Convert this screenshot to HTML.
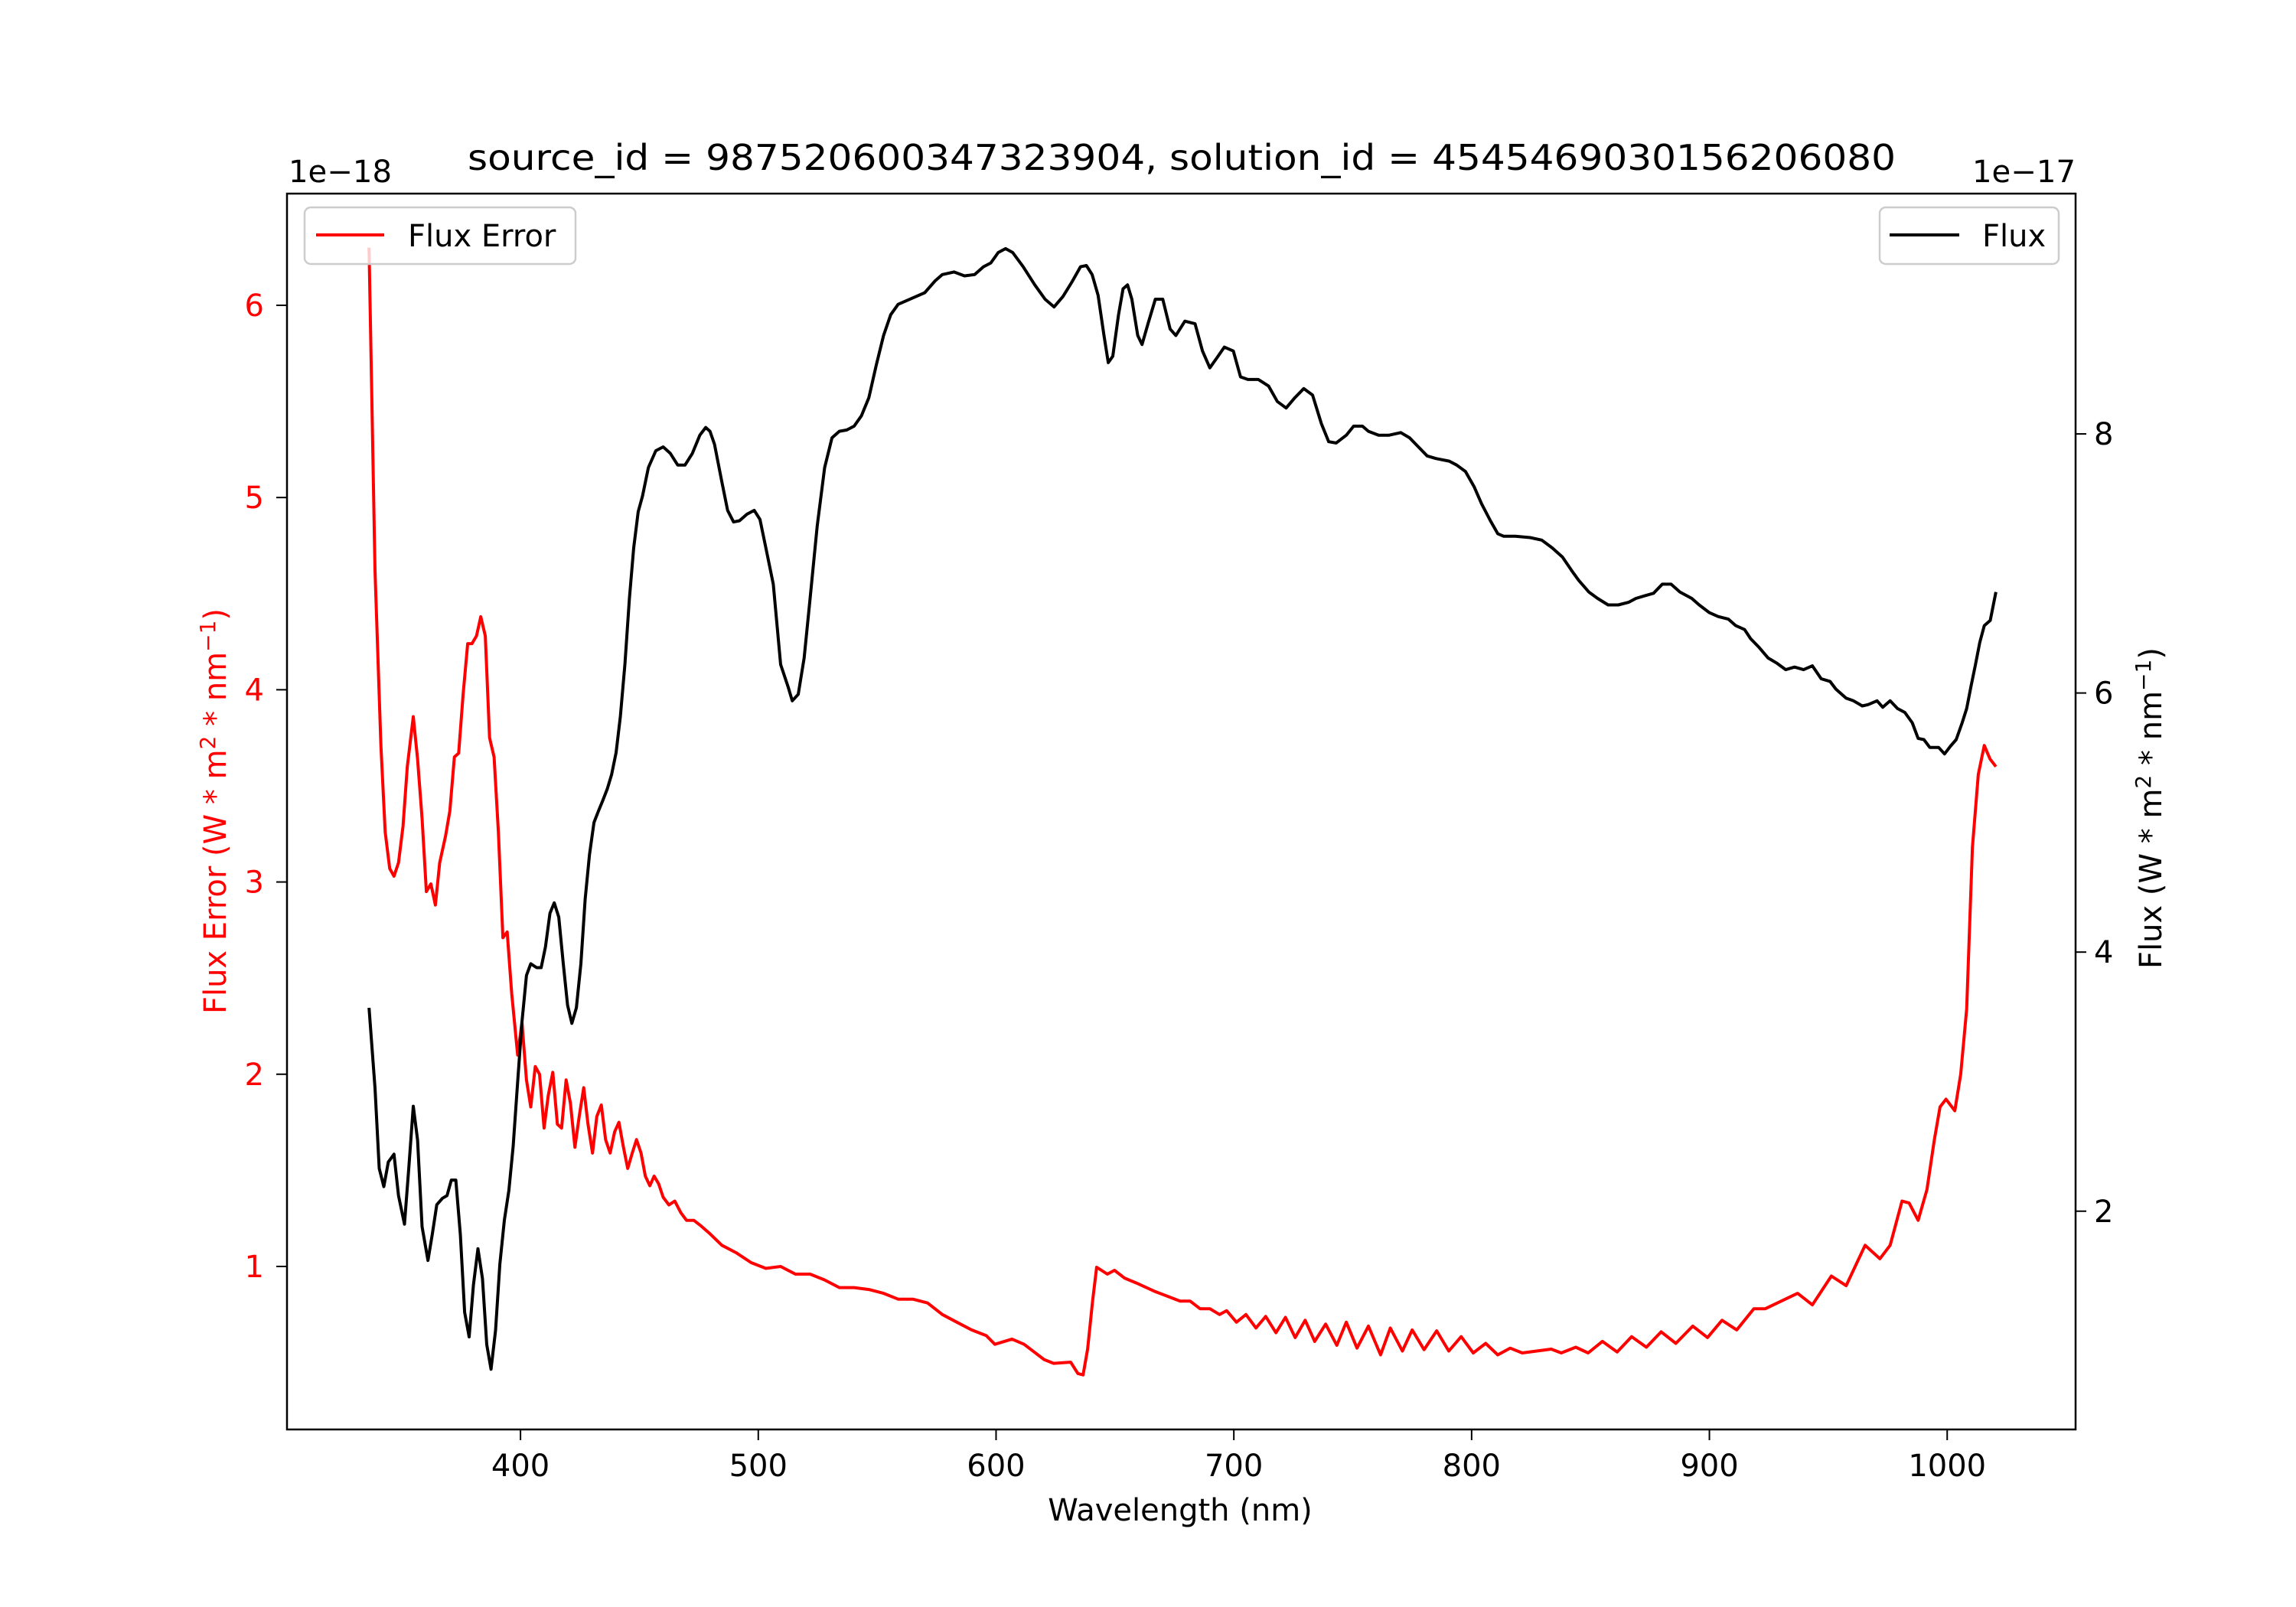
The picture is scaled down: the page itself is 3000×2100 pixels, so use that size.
<!DOCTYPE html>
<html><head><meta charset="utf-8"><style>
html,body{margin:0;padding:0;background:#fff;}
svg{display:block;font-family:"DejaVu Sans","Liberation Sans",sans-serif;}
</style></head>
<body>
<svg id="chart" width="3000" height="2100" viewBox="0 0 3000 2100" xmlns="http://www.w3.org/2000/svg">
<rect x="0" y="0" width="3000" height="2100" fill="#fff"/>
<text x="1544" y="222" font-size="46" text-anchor="middle" textLength="1866" lengthAdjust="spacingAndGlyphs">source_id = 987520600347323904, solution_id = 4545469030156206080</text>
<text x="377" y="238" font-size="40" textLength="135" lengthAdjust="spacingAndGlyphs">1e−18</text>
<text x="2712" y="238" font-size="40" text-anchor="end" textLength="135" lengthAdjust="spacingAndGlyphs">1e−17</text>
<g id="ticks"></g>
<g id="series"></g>
<rect x="375" y="253" width="2337" height="1615" fill="none" stroke="#000" stroke-width="2.5"/>
<text x="1542" y="1987" font-size="40" text-anchor="middle">Wavelength (nm)</text>
<text transform="translate(295,1060) rotate(-90)" font-size="40" fill="#ff0000" text-anchor="middle">Flux Error (W * m<tspan font-size="28" dy="-14">2</tspan><tspan dy="14"> * nm</tspan><tspan font-size="28" dy="-14">−1</tspan><tspan dy="14">)</tspan></text>
<text transform="translate(2824,1056) rotate(-90)" font-size="40" fill="#000" text-anchor="middle">Flux (W * m<tspan font-size="28" dy="-14">2</tspan><tspan dy="14"> * nm</tspan><tspan font-size="28" dy="-14">−1</tspan><tspan dy="14">)</tspan></text>
<g>
<rect x="398" y="271" width="354" height="74" rx="8" fill="#fff" fill-opacity="0.8" stroke="#ccc" stroke-width="2.5"/>
<line x1="413" y1="307" x2="502" y2="307" stroke="#ff0000" stroke-width="4"/>
<text x="533" y="322" font-size="40">Flux Error</text>
</g>
<g>
<rect x="2456" y="271" width="234" height="74" rx="8" fill="#fff" fill-opacity="0.8" stroke="#ccc" stroke-width="2.5"/>
<line x1="2469" y1="307" x2="2560" y2="307" stroke="#000" stroke-width="4"/>
<text x="2590" y="322" font-size="40">Flux</text>
</g>
</svg>
<script>
const xTicks = [400,500,600,700,800,900,1000];
const leftTicks = [1,2,3,4,5,6];
const rightTicks = [2,4,6,8];
const errWave = [336.3,338.8,341.3,343.1,345,346.8,348.7,350.6,352.4,354.9,356.7,358.6,360.4,362.3,364.2,366,368.5,370.3,372.2,374,375.9,377.8,379.6,381.5,383.3,385.2,387,388.9,390.7,392.6,394.4,396.3,398.8,400.6,402.5,404.3,406.2,408,409.9,411.7,413.6,415.5,417.3,419.2,421,422.9,424.7,426.6,428.4,430.3,432.1,434,435.8,437.7,439.6,441.4,443.3,445.1,447,448.8,450.7,452.5,454.4,456.2,458.1,460,462.4,464.9,467.4,469.8,472.9,476,479.7,484.7,490.9,497,503.2,509.4,515.6,521.8,527.9,534.1,540.3,546.5,552.7,558.8,565,571.2,577.4,583.5,589.7,595.9,599.5,606.7,611.8,620.2,624.2,631.4,634.4,636.6,638.5,640.6,642.3,646.8,649.8,654,659,667,677.4,681.6,685.8,689.9,694,697,701.1,705.1,709.3,713.4,717.7,721.7,725.8,730,734,738.6,743.3,747.3,751.8,756.6,761.7,765.8,770.9,775,780,785.3,790.4,795.6,800.7,805.9,811,816.2,821.3,833.5,837.7,843.8,849,855,861.2,867.3,873.5,879.7,885.9,893,899.2,905.3,911.5,918.7,923.5,937.1,943.3,951.3,957.5,965.5,971.7,976,981,984,987.8,991.5,994.6,997,999.5,1003.2,1005.7,1008.2,1010.6,1013.1,1015.6,1018,1020.5];
const errValues = [6.30,4.62,3.71,3.26,3.07,3.03,3.10,3.29,3.60,3.86,3.64,3.33,2.95,2.99,2.88,3.10,3.24,3.37,3.65,3.67,3.98,4.24,4.24,4.28,4.38,4.28,3.75,3.65,3.26,2.71,2.74,2.42,2.10,2.27,1.97,1.83,2.04,2.0,1.72,1.89,2.01,1.74,1.72,1.97,1.85,1.62,1.78,1.93,1.74,1.59,1.78,1.84,1.66,1.59,1.70,1.75,1.62,1.51,1.59,1.66,1.59,1.47,1.42,1.47,1.43,1.36,1.32,1.34,1.28,1.24,1.24,1.21,1.17,1.11,1.07,1.02,0.99,1.0,0.96,0.96,0.93,0.89,0.89,0.88,0.86,0.83,0.83,0.81,0.75,0.71,0.67,0.64,0.595,0.622,0.595,0.516,0.496,0.502,0.443,0.436,0.57,0.82,0.996,0.96,0.98,0.94,0.914,0.869,0.82,0.82,0.78,0.78,0.75,0.77,0.71,0.75,0.68,0.74,0.655,0.735,0.63,0.72,0.61,0.70,0.59,0.71,0.575,0.69,0.54,0.68,0.56,0.67,0.567,0.665,0.56,0.635,0.55,0.60,0.54,0.575,0.55,0.57,0.55,0.58,0.55,0.61,0.555,0.635,0.58,0.66,0.60,0.69,0.63,0.72,0.67,0.78,0.78,0.86,0.80,0.95,0.90,1.11,1.04,1.11,1.34,1.33,1.24,1.40,1.66,1.83,1.87,1.81,2.0,2.34,3.18,3.56,3.71,3.64,3.60];
const fluxWave = [336.3,338.8,340.6,342.5,344.4,346.8,348.7,351.2,353,354.9,356.7,358.6,361.1,362.9,364.8,367.2,369.1,370.9,372.8,374.7,376.5,378.4,380.2,382.1,384,385.8,387.6,389.5,391.3,393.2,395.1,396.9,398.8,400.6,402.5,404.3,406.8,408.7,410.5,412.4,414.2,416.1,418,419.8,421.6,423.5,425.4,427.2,429,430.9,432.8,434.6,436.5,438.3,440.2,442,443.9,445.8,447.6,449.5,451.3,453.8,456.9,460,463,466.1,469.2,472.3,475.4,477.9,479.7,481.6,484.7,487.1,489.6,492.1,495.2,498.3,500.7,503.2,506.3,509.4,512.5,514.3,516.8,519.3,521.8,524.8,527.9,531,534.1,537.2,540.3,543.4,546.5,549.6,552.7,555.7,558.8,565,570,574.3,577.4,582.3,586.7,591,594.7,597.8,600.9,604,607,611.4,616.3,620.6,624.4,628.1,631.8,635.5,638,640.4,642.9,645.4,647.2,649.1,651.5,653.4,655.3,657.1,659.6,661.4,663.9,667,670.1,673.2,675.6,679.4,683.7,686.8,689.9,693,696,699.8,702.8,705.9,710.3,714.6,718.3,722,725.7,729.4,733.1,736.8,739.9,743,747.3,750.4,754.1,756.6,760.9,765.3,770.2,773.9,777.6,781.3,785,790.6,793.7,797.4,801.1,804.2,807.9,811,813.5,818.4,824.6,829.5,833.9,838.2,841.9,845,849.3,853,857.4,861.7,866,869.1,872.8,876.5,880.2,883.9,887.6,892.6,895.7,900,903.7,908,911.1,914.8,917.3,921,924.7,928.4,932.1,935.8,939.6,943.3,947,950.7,953.2,957.5,960.6,964.3,966.7,970.5,972.9,976,979.1,982.2,985.3,987.8,990.2,992.7,996.4,998.9,1001.4,1003.8,1006.3,1008.2,1010,1011.9,1013.7,1015.6,1018.1,1020.5];
const fluxValues = [3.57,2.95,2.33,2.19,2.38,2.44,2.12,1.90,2.33,2.81,2.55,1.88,1.62,1.82,2.05,2.10,2.12,2.24,2.24,1.82,1.22,1.03,1.43,1.71,1.48,0.97,0.78,1.08,1.59,1.93,2.16,2.50,3.0,3.46,3.82,3.91,3.88,3.88,4.04,4.30,4.38,4.27,3.91,3.59,3.45,3.57,3.91,4.41,4.75,5.0,5.09,5.17,5.26,5.37,5.54,5.82,6.22,6.73,7.12,7.40,7.52,7.74,7.87,7.90,7.85,7.76,7.76,7.85,7.99,8.05,8.02,7.92,7.63,7.41,7.32,7.33,7.38,7.41,7.34,7.12,6.84,6.22,6.05,5.94,5.99,6.27,6.73,7.29,7.74,7.97,8.02,8.03,8.06,8.14,8.28,8.53,8.76,8.92,9.00,9.05,9.09,9.18,9.23,9.25,9.22,9.23,9.29,9.32,9.40,9.43,9.40,9.29,9.15,9.04,8.98,9.06,9.17,9.29,9.30,9.23,9.07,8.76,8.55,8.60,8.92,9.12,9.15,9.04,8.76,8.69,8.85,9.04,9.04,8.81,8.76,8.87,8.85,8.64,8.51,8.59,8.67,8.64,8.44,8.42,8.42,8.37,8.25,8.20,8.28,8.35,8.30,8.08,7.94,7.93,7.99,8.06,8.06,8.02,7.99,7.99,8.01,7.97,7.90,7.83,7.81,7.79,7.76,7.71,7.59,7.46,7.33,7.23,7.21,7.21,7.20,7.18,7.12,7.05,6.95,6.87,6.78,6.73,6.68,6.68,6.70,6.73,6.75,6.77,6.84,6.84,6.78,6.73,6.68,6.62,6.59,6.57,6.52,6.49,6.42,6.35,6.27,6.23,6.18,6.20,6.18,6.21,6.11,6.09,6.03,5.96,5.94,5.90,5.91,5.94,5.89,5.94,5.88,5.85,5.77,5.65,5.64,5.58,5.58,5.53,5.59,5.64,5.77,5.88,6.05,6.22,6.39,6.52,6.56,6.78];

const X0=375, X1=2712, Y0=1868, Y1=253;
const xMin=301.8, xMax=1054.0, lMin=0.152, lMax=6.581, rMin=0.315, rMax=9.855;
function xs(v){return X0+(v-xMin)/(xMax-xMin)*(X1-X0);}
function yl(v){return Y0-(v-lMin)/(lMax-lMin)*(Y0-Y1);}
function yr(v){return Y0-(v-rMin)/(rMax-rMin)*(Y0-Y1);}
const NS='http://www.w3.org/2000/svg';
const tg=document.getElementById('ticks');
function mk(tag,attrs,parent){const e=document.createElementNS(NS,tag);for(const k in attrs)e.setAttribute(k,attrs[k]);parent.appendChild(e);return e;}
xTicks.forEach(t=>{
  const x=xs(t);
  const l=mk('line',{x1:x,y1:Y0,x2:x,y2:Y0+14,stroke:'#000','stroke-width':2},tg);
  
  
  const s=mk('text',{x:x,y:1929,'font-size':40,'text-anchor':'middle'},tg);
  s.textContent=t;
  
  
});
leftTicks.forEach(t=>{
  const y=yl(t);
  const l=mk('line',{x1:X0-14,y1:y,x2:X0,y2:y,stroke:'#000','stroke-width':2},tg);
  
  
  const s=mk('text',{x:345,y:y+14,'font-size':40,'text-anchor':'end',fill:'#ff0000'},tg);
  s.textContent=t;
  
  
});
rightTicks.forEach(t=>{
  const y=yr(t);
  const l=mk('line',{x1:X1,y1:y,x2:X1+14,y2:y,stroke:'#000','stroke-width':2},tg);
  
  
  const s=mk('text',{x:2736,y:y+14,'font-size':40,'text-anchor':'start'},tg);
  s.textContent=t;
  
  
});
const sg=document.getElementById('series');
let d1=errWave.map((w,i)=>(i?'L':'M')+xs(w).toFixed(1)+' '+yl(errValues[i]).toFixed(1)).join(' ');
const p1=mk('path',{d:d1,fill:'none',stroke:'#ff0000','stroke-width':4,'stroke-linejoin':'round'},sg);


let d2=fluxWave.map((w,i)=>(i?'L':'M')+xs(w).toFixed(1)+' '+yr(fluxValues[i]).toFixed(1)).join(' ');
const p2=mk('path',{d:d2,fill:'none',stroke:'#000','stroke-width':4,'stroke-linejoin':'round'},sg);


</script>
</body></html>
